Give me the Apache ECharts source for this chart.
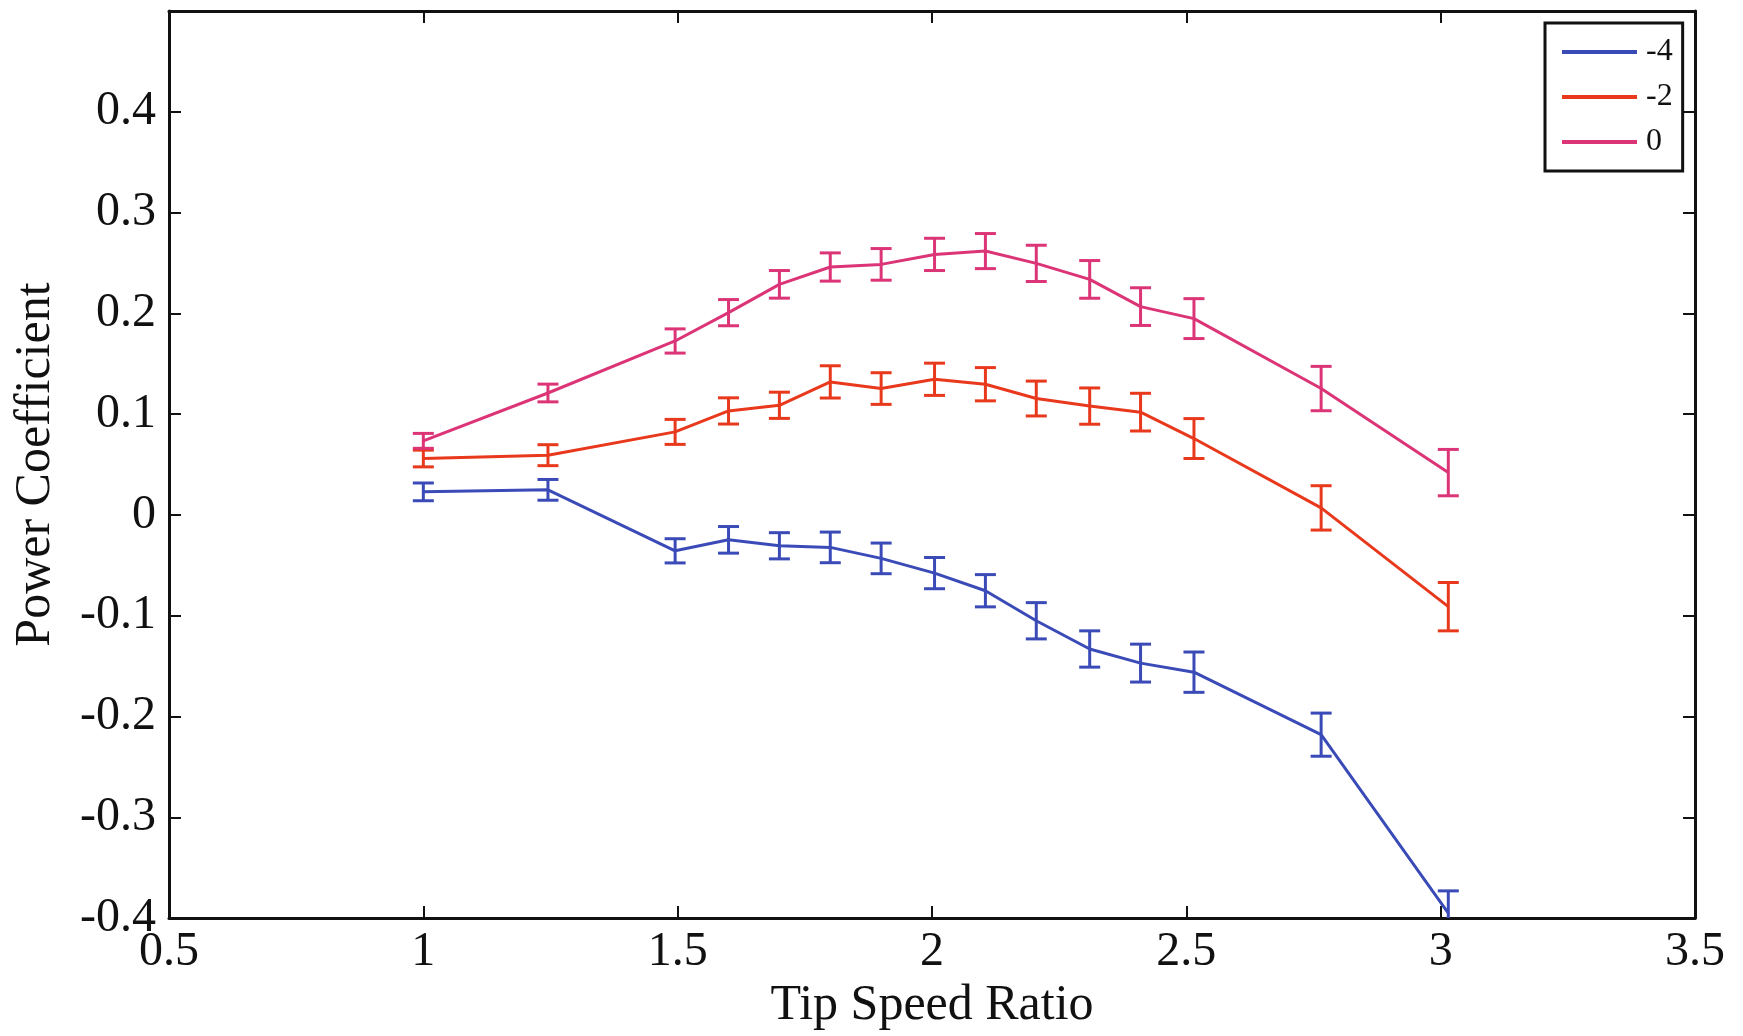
<!DOCTYPE html>
<html>
<head>
<meta charset="utf-8">
<script src="https://cdn.jsdelivr.net/npm/echarts@6/dist/echarts.min.js"></script>
<style>
html,body{margin:0;padding:0;background:#fff;}
#chart{width:1743px;height:1036px;}
</style>
</head>
<body>
<div id="chart"></div>
<script>
// Tip speed ratio (x) values
var tsr = [1.0, 1.245, 1.495, 1.6, 1.7, 1.8, 1.9, 2.005, 2.105, 2.205, 2.31, 2.41, 2.515, 2.765, 3.015];
// Power coefficient, series "-4"
var cpM4 = [0.0229, 0.0249, -0.0356, -0.0247, -0.0306, -0.0322, -0.0431, -0.0577, -0.0752, -0.105, -0.133, -0.147, -0.156, -0.218, -0.395];
var errM4 = [0.0088, 0.0103, 0.012, 0.0132, 0.013, 0.0152, 0.0152, 0.0155, 0.016, 0.018, 0.018, 0.0188, 0.020, 0.0214, 0.022];
// series "-2"
var cpM2 = [0.056, 0.0593, 0.0824, 0.1032, 0.1088, 0.132, 0.1254, 0.1346, 0.1297, 0.1155, 0.108, 0.102, 0.0758, 0.007, -0.091];
var errM2 = [0.0083, 0.0104, 0.0124, 0.013, 0.013, 0.016, 0.0157, 0.016, 0.0165, 0.0173, 0.018, 0.0187, 0.0198, 0.022, 0.024];
// series "0"
var cp0 = [0.0735, 0.121, 0.1726, 0.2007, 0.2288, 0.246, 0.2486, 0.2585, 0.2618, 0.2496, 0.2337, 0.2067, 0.1948, 0.1254, 0.042];
var err0 = [0.0074, 0.0088, 0.012, 0.013, 0.0137, 0.014, 0.0157, 0.016, 0.0174, 0.018, 0.0187, 0.0187, 0.0198, 0.022, 0.023];

var seriesNames = ['-4', '-2', '0'];
var seriesColors = ['#3a4bb8', '#e8391d', '#dc3577'];
var xTicks = [0.5, 3.5, 0.5];   // min, max, interval
var yTicks = [-0.4, 0.5, 0.1];

var FONT = 'Liberation Serif';
var chart = echarts.init(document.getElementById('chart'), null, {renderer: 'canvas'});

function lineData(y) { return tsr.map(function (x, i) { return [x, y[i]]; }); }
function errData(y, e) { return tsr.map(function (x, i) { return [x, y[i] - e[i], y[i] + e[i]]; }); }

function errRender(color) {
  return function (params, api) {
    var x = api.value(0);
    var lo = api.coord([x, api.value(1)]);
    var hi = api.coord([x, api.value(2)]);
    var hw = 10.5;
    var st = {stroke: color, lineWidth: 3};
    return {
      type: 'group',
      children: [
        {type: 'line', shape: {x1: lo[0], y1: lo[1], x2: hi[0], y2: hi[1]}, style: st},
        {type: 'line', shape: {x1: lo[0] - hw, y1: lo[1], x2: lo[0] + hw, y2: lo[1]}, style: st},
        {type: 'line', shape: {x1: hi[0] - hw, y1: hi[1], x2: hi[0] + hw, y2: hi[1]}, style: st}
      ]
    };
  };
}

var ys = [cpM4, cpM2, cp0];
var es = [errM4, errM2, err0];
var series = [];
for (var k = 0; k < 3; k++) {
  series.push({
    name: seriesNames[k], type: 'line', data: lineData(ys[k]),
    showSymbol: false, symbol: 'none', lineStyle: {color: seriesColors[k], width: 3},
    itemStyle: {color: seriesColors[k]}, z: 2 + k, animation: false
  });
  series.push({
    name: seriesNames[k], type: 'custom', data: errData(ys[k], es[k]),
    renderItem: errRender(seriesColors[k]), clip: true, z: 2 + k, animation: false,
    encode: {x: 0, y: [1, 2]}
  });
}

var axisLineStyle = {show: true, onZero: false, lineStyle: {color: '#111', width: 3}};
var tickStyle = {show: true, inside: true, length: 12, lineStyle: {color: '#111', width: 2}};

chart.setOption({
  backgroundColor: '#fff',
  animation: false,
  grid: {left: 169, right: 48, top: 11, bottom: 116, containLabel: false},
  legend: {
    data: seriesNames.map(function (n) { return {name: n, icon: 'rect'}; }),
    orient: 'vertical', left: 1545, top: 23,
    itemWidth: 75, itemHeight: 4, itemGap: 13,
    padding: [13, 10, 13, 17],
    borderColor: '#111', borderWidth: 3, backgroundColor: '#fff',
    textStyle: {fontFamily: FONT, fontSize: 32, color: '#111', lineHeight: 32, padding: [0, 0, 0, 4]},
    z: 10
  },
  xAxis: [{
    type: 'value', min: xTicks[0], max: xTicks[1], interval: xTicks[2],
    position: 'bottom',
    name: 'Tip Speed Ratio', nameLocation: 'middle', nameGap: 58,
    nameTextStyle: {fontFamily: FONT, fontSize: 50, color: '#111'},
    axisLine: axisLineStyle, axisTick: tickStyle, splitLine: {show: false},
    axisLabel: {fontFamily: FONT, fontSize: 48, color: '#111', margin: 10}
  }, {
    type: 'value', min: xTicks[0], max: xTicks[1], interval: xTicks[2],
    position: 'top',
    axisLine: axisLineStyle, axisTick: tickStyle, splitLine: {show: false},
    axisLabel: {show: false}
  }],
  yAxis: [{
    type: 'value', min: yTicks[0], max: yTicks[1], interval: yTicks[2],
    position: 'left',
    name: 'Power Coefficient', nameLocation: 'middle', nameGap: 108,
    nameTextStyle: {fontFamily: FONT, fontSize: 50, color: '#111'},
    axisLine: axisLineStyle, axisTick: tickStyle, splitLine: {show: false},
    axisLabel: {fontFamily: FONT, fontSize: 48, color: '#111', margin: 13,
      formatter: function (v) { return v > 0.45 ? '' : String(+v.toFixed(1)); }}
  }, {
    type: 'value', min: yTicks[0], max: yTicks[1], interval: yTicks[2],
    position: 'right',
    axisLine: axisLineStyle, axisTick: tickStyle, splitLine: {show: false},
    axisLabel: {show: false}
  }],
  series: series
});
</script>
</body>
</html>
